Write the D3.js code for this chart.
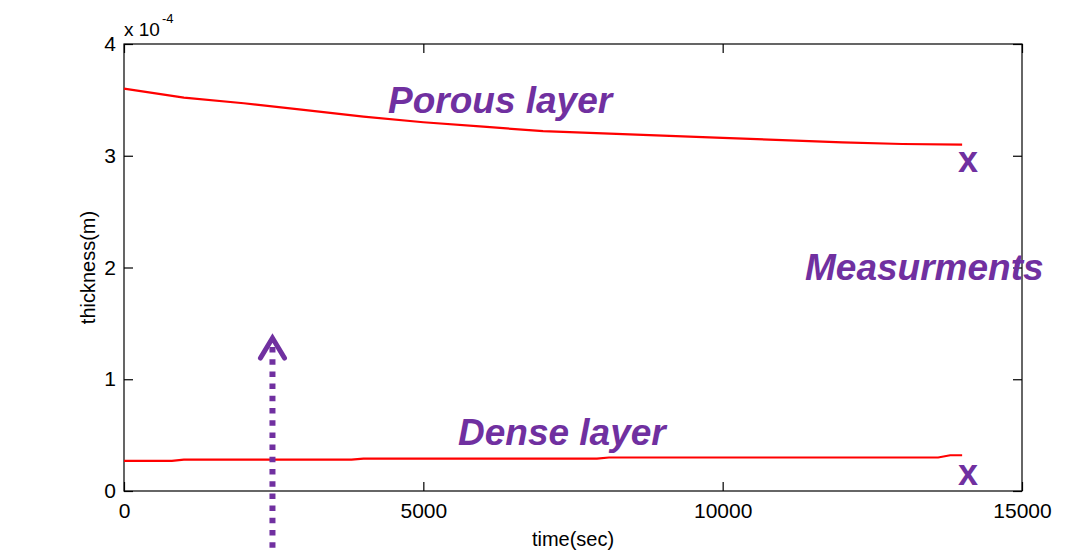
<!DOCTYPE html>
<html><head><meta charset="utf-8">
<script src="https://cdn.jsdelivr.net/npm/d3@7"></script>
<style>body{margin:0;background:#fff}svg{display:block}</style>
</head><body>
<svg id="c" width="1070" height="553"></svg>
<script>
// ---- data ----
const porousTime = [0,1000,2000,3000,4000,5000,6000,7000,8000,9000,10000,11000,12000,13000,14000];
const porousThickness = [3.60e-4,3.52e-4,3.47e-4,3.41e-4,3.35e-4,3.30e-4,3.26e-4,3.22e-4,3.20e-4,3.18e-4,3.16e-4,3.14e-4,3.12e-4,3.105e-4,3.10e-4];
const denseTime = [0,800,1000,3800,4000,7900,8100,13600,13800,14000];
const denseThickness = [0.27e-4,0.27e-4,0.28e-4,0.28e-4,0.29e-4,0.29e-4,0.30e-4,0.30e-4,0.32e-4,0.32e-4];
const measureTime = [14100,14100];
const measureThickness = [2.96e-4,0.16e-4];
const xTicks = [0,5000,10000,15000];
const yTicks = [0,1e-4,2e-4,3e-4,4e-4];
const annotations = ["Porous layer","Dense layer","Measurments"];
const arrowTime = 2480;

// ---- layout ----
const L=124,R=1022,T=44,B=491;
const svg=d3.select("#c");
const x=d3.scaleLinear().domain([0,15000]).range([L,R]);
const y=d3.scaleLinear().domain([0,4e-4]).range([B,T]);
const font="Liberation Sans, Arial, sans-serif";
const purple="#7030A0";

// frame
svg.append("rect").attr("x",L).attr("y",T).attr("width",R-L).attr("height",B-T)
  .attr("fill","none").attr("stroke","#000").attr("stroke-width",1.2);

// axes
const fmtY=d=>d3.format("d")(Math.round(d*1e4));
const gB=svg.append("g").attr("transform",`translate(0,${B})`)
  .call(d3.axisBottom(x).tickValues(xTicks).tickSize(-9).tickPadding(12).tickFormat(d3.format("d")));
const gT=svg.append("g").attr("transform",`translate(0,${T})`)
  .call(d3.axisTop(x).tickValues(xTicks).tickSize(-9).tickFormat(""));
const gL=svg.append("g").attr("transform",`translate(${L},0)`)
  .call(d3.axisLeft(y).tickValues(yTicks).tickSize(-9).tickPadding(8).tickFormat(fmtY));
const gR=svg.append("g").attr("transform",`translate(${R},0)`)
  .call(d3.axisRight(y).tickValues(yTicks).tickSize(-9).tickFormat(""));
[gB,gT,gL,gR].forEach(g=>{
  g.select(".domain").remove();
  g.selectAll("line").attr("stroke","#000").attr("stroke-width",1.2);
  g.selectAll("text").attr("font-family",font).attr("font-size",21).attr("fill","#000");
});
gB.selectAll("text").attr("dy","0.71em");

// scale exponent
const ex=svg.append("text").attr("x",L).attr("y",36).attr("font-family",font).attr("font-size",19).attr("fill","#000");
ex.append("tspan").text("x 10");
ex.append("tspan").attr("font-size",13).attr("dy",-13).attr("dx",2).text("-4");

// axis titles
svg.append("text").attr("x",(L+R)/2).attr("y",546).attr("text-anchor","middle")
  .attr("font-family",font).attr("font-size",20).text("time(sec)");
svg.append("text").attr("transform",`translate(95,${(T+B)/2}) rotate(-90)`).attr("text-anchor","middle")
  .attr("font-family",font).attr("font-size",20).text("thickness(m)");

// curves
const line=d3.line().x(d=>x(d[0])).y(d=>y(d[1]));
svg.append("path").datum(d3.zip(porousTime,porousThickness)).attr("d",line)
  .attr("fill","none").attr("stroke","#ff0000").attr("stroke-width",2.2);
svg.append("path").datum(d3.zip(denseTime,denseThickness)).attr("d",line)
  .attr("fill","none").attr("stroke","#ff0000").attr("stroke-width",2.2);

// measurement markers
svg.selectAll("text.m").data(d3.zip(measureTime,measureThickness)).enter().append("text")
  .attr("class","m").attr("x",d=>x(d[0])).attr("y",d=>y(d[1])).attr("dy","0.33em")
  .attr("text-anchor","middle").attr("font-family",font).attr("font-weight","bold")
  .attr("font-size",36).attr("fill",purple).text("x");

// annotations
const ann=[[388,113],[458,445],[805,280]];
svg.selectAll("text.a").data(annotations).enter().append("text").attr("class","a")
  .attr("x",(d,i)=>ann[i][0]).attr("y",(d,i)=>ann[i][1])
  .attr("font-family",font).attr("font-weight","bold").attr("font-style","italic")
  .attr("font-size",37).attr("fill",purple).text(d=>d);

// dotted arrow
const ax=x(arrowTime);
svg.append("line").attr("x1",ax).attr("x2",ax).attr("y1",347).attr("y2",553)
  .attr("stroke",purple).attr("stroke-width",6).attr("stroke-dasharray","5.5 6.7");
svg.append("path").attr("d",`M${ax-12},358 L${ax},338 L${ax+12},358`)
  .attr("fill","none").attr("stroke",purple).attr("stroke-width",5)
  .attr("stroke-linecap","round").attr("stroke-linejoin","miter");
</script>
</body></html>
